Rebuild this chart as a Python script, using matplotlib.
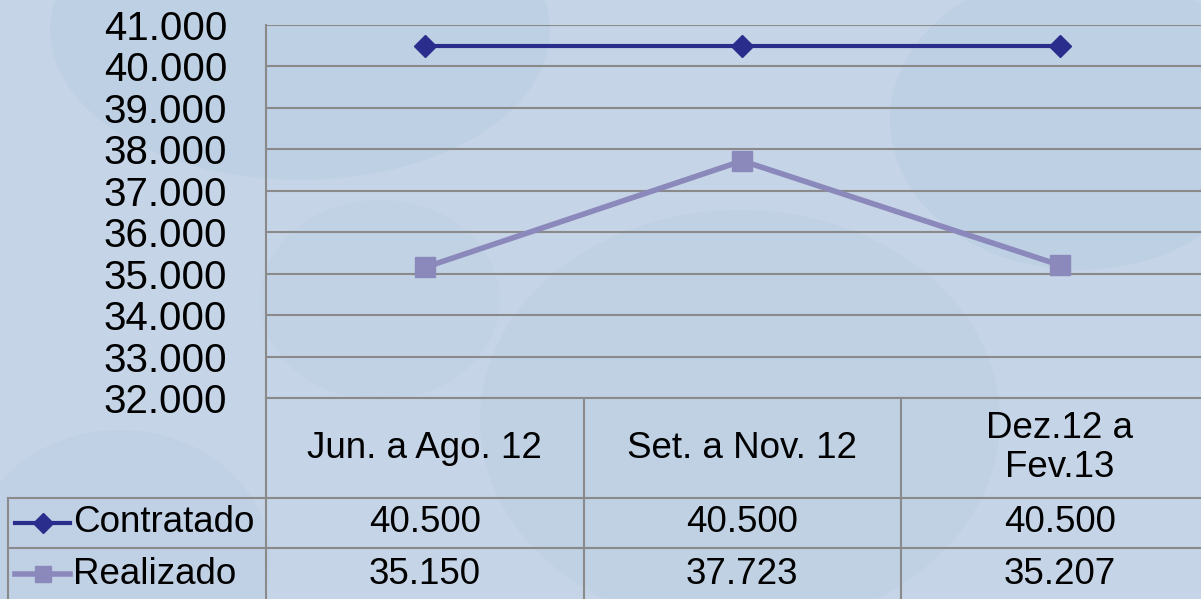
import matplotlib
matplotlib.use("Agg")
import matplotlib.pyplot as plt
from matplotlib import transforms
from matplotlib.lines import Line2D
from matplotlib.patches import Ellipse

categories = ["Jun. a Ago. 12", "Set. a Nov. 12", "Dez.12 a\nFev.13"]
series_names = ["Contratado", "Realizado"]
contratado = [40500, 40500, 40500]
realizado = [35150, 37723, 35207]
y_ticks = [32000, 33000, 34000, 35000, 36000, 37000, 38000, 39000, 40000, 41000]

def fmt(v):
    return f"{v:,.0f}".replace(",", ".")

plt.rcParams["font.family"] = ["Liberation Sans", "DejaVu Sans"]
FS_TICK = 29
FS_TAB = 26.5

W, H = 1201, 599
BG = "#c5d4e6"
GRID = "#8a8a8a"
C1 = "#2b2d8c"
C2 = "#8b89bc"

fig = plt.figure(figsize=(W / 100, H / 100), dpi=100)
fig.patch.set_facecolor(BG)

# subtle decorative background shapes
deco = fig.add_axes([0, 0, 1, 1])
deco.set_xlim(0, W); deco.set_ylim(H, 0); deco.axis("off")
for (cx, cy, w, h, a) in [(300, 30, 500, 300, 0.22), (1080, 120, 380, 300, 0.22),
                           (740, 420, 520, 420, 0.16), (120, 560, 300, 260, 0.14),
                           (380, 300, 240, 200, 0.10)]:
    deco.add_patch(Ellipse((cx, cy), w, h, facecolor="#a9c3df", edgecolor="none", alpha=a))

def px(x):  # pixel x -> figure fraction
    return x / W

def py(y):  # pixel y (from top) -> figure fraction
    return 1 - y / H

L, R, T, B = 266, 1201, 25, 398
ax = fig.add_axes([px(L), py(B), px(R) - px(L), py(T) - py(B)])
ax.set_facecolor("none")
col_w = 317.5
ax.set_xlim(-0.5, (R - L) / col_w - 0.5)
ax.set_ylim(32000, 41000)
ax.set_yticks(y_ticks)
ax.set_yticklabels([fmt(v) for v in y_ticks], fontsize=FS_TICK)
ax.tick_params(axis="y", length=0, pad=28)
ax.set_xticks([])
for s in ["top", "right", "bottom"]:
    ax.spines[s].set_visible(False)
ax.spines["left"].set_color(GRID)
ax.spines["left"].set_linewidth(1.5)
ax.grid(axis="y", color=GRID, linewidth=1.5)
ax.set_axisbelow(True)

x = list(range(len(categories)))
ax.plot(x, contratado, color=C1, lw=3, marker="D", markersize=11, zorder=3, clip_on=False)
ax.plot(x, realizado, color=C2, lw=4, marker="s", markersize=14, zorder=3, clip_on=False)

# data table below the axis
bt = transforms.blended_transform_factory(ax.transData, fig.transFigure)
ft = fig.transFigure
lkw = dict(color=GRID, linewidth=1.5, clip_on=False)

row_bottoms = [498, 548]
fig.add_artist(Line2D([px(L), px(R)], [py(B), py(B)], transform=ft, **lkw))
for yb in row_bottoms:
    fig.add_artist(Line2D([px(8), px(R)], [py(yb), py(yb)], transform=ft, **lkw))
fig.add_artist(Line2D([px(L), px(L)], [py(B), py(H)], transform=ft, **lkw))
fig.add_artist(Line2D([px(8), px(8)], [py(498), py(H)], transform=ft, **lkw))
for i in range(1, len(categories)):
    fig.add_artist(Line2D([i - 0.5, i - 0.5], [py(B), py(H)], transform=bt, **lkw))

# header
for i, c in enumerate(categories):
    fig.text(i, py(448), c, transform=bt, ha="center", va="center",
             fontsize=FS_TAB, linespacing=1.15)

# rows
rows = [(series_names[0], contratado, C1, "D", 10, 3), (series_names[1], realizado, C2, "s", 12, 4)]
for (name, vals, col, mk, ms, lw), yc in zip(rows, [523, 574]):
    fig.add_artist(Line2D([px(15), px(70)], [py(yc), py(yc)], transform=ft, color=col, lw=lw))
    fig.add_artist(Line2D([px(42.5)], [py(yc)], transform=ft, color=col, lw=0,
                          marker=mk, markersize=ms))
    fig.text(px(73), py(yc), name, ha="left", va="center", fontsize=FS_TAB)
    for i, v in enumerate(vals):
        fig.text(i, py(yc), fmt(v), transform=bt, ha="center", va="center", fontsize=FS_TAB)

fig.savefig("out.png", dpi=100, facecolor=BG)
